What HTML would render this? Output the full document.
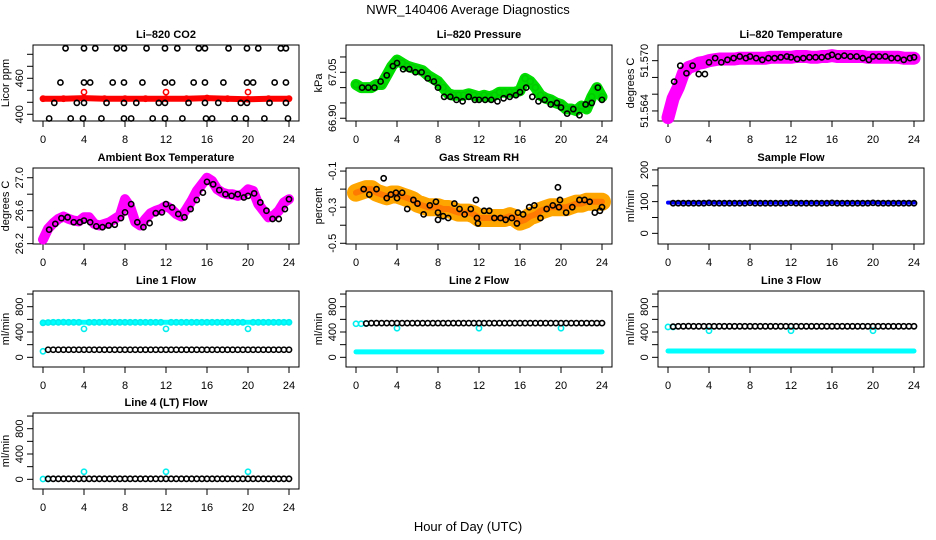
<!DOCTYPE html>
<html><head><meta charset="utf-8"><style>
html,body{margin:0;padding:0;background:#fff;}
svg{display:block;font-family:"Liberation Sans",sans-serif;}
</style></head><body>
<svg id="chart" width="936" height="540" viewBox="0 0 936 540">
<text x="468" y="14" text-anchor="middle" font-size="13">NWR_140406  Average Diagnostics</text>
<text x="468" y="531" text-anchor="middle" font-size="13">Hour of Day (UTC)</text>
</svg>
<script>
// ---------- data ----------
const hourTicks = [0,4,8,12,16,20,24];
const halfHours = [0,0.5,1,1.5,2,2.5,3,3.5,4,4.5,5,5.5,6,6.5,7,7.5,8,8.5,9,9.5,10,10.5,11,11.5,12,12.5,13,13.5,14,14.5,15,15.5,16,16.5,17,17.5,18,18.5,19,19.5,20,20.5,21,21.5,22,22.5,23,23.5,24];

// CO2
const co2BlackHours = [2.2,4.0,5.1,7.2,7.9,10.1,11.9,13.1,15.2,15.8,18.1,19.9,21.0,23.2,23.7, 1.7,4.0,4.6,6.8,7.9,9.7,11.9,12.6,14.7,15.8,17.6,19.9,20.5,22.6,23.7, 1.1,3.3,4.0,6.2,7.9,9.1,11.3,11.9,14.2,15.8,17.1,19.3,19.9,22.1,23.7, 0.6,2.7,3.9,5.7,7.9,8.6,10.7,11.9,13.6,15.9,16.5,18.7,19.8,21.6,23.9];
const co2BlackPpm = [510,510,510,510,510,510,510,510,510,510,510,510,510,510,510, 453,453,453,453,453,453,453,453,453,453,453,453,453,453,453, 419,419,419,419,419,419,419,419,419,419,419,419,419,419,419, 393,393,393,393,393,393,393,393,393,393,393,393,393,393,393];
const co2RedHours = [0,2,4,6,8,10,12,14,16,18,20,22,24,4,12,20];
const co2RedPpm = [426,426,427,426,426,426,426,426,427,426,425,426,426,437,437,437];

// Pressure
const pressGreen = [67.01,67.0,67.0,67.0,67.01,67.01,67.04,67.07,67.09,67.08,67.07,67.065,67.06,67.055,67.04,67.03,67.02,67.0,66.98,66.975,66.975,66.975,66.98,66.975,66.97,66.975,66.97,66.975,66.985,66.985,66.985,66.985,66.99,67.03,67.02,67.0,66.975,66.965,66.96,66.95,66.945,66.93,66.93,66.925,66.94,66.93,66.97,67.0,66.97];
const pressBlackHours = [0.6,1.2,1.8,2.4,3.0,3.6,4.0,4.6,5.2,5.8,6.4,7.0,7.6,8.0,8.6,9.2,9.8,10.4,11.0,11.6,12.0,12.6,13.2,13.8,14.4,15.0,15.6,16.0,16.6,17.2,17.8,18.4,19.0,19.6,20.0,20.6,21.2,21.8,22.4,23.0,23.6,24.0];
const pressBlack = [67.0,67.0,67.0,67.02,67.04,67.07,67.08,67.06,67.06,67.05,67.05,67.03,67.02,67.0,66.97,66.97,66.96,66.955,66.97,66.96,66.96,66.96,66.96,66.955,66.965,66.97,66.975,66.985,67.0,66.97,66.955,66.96,66.945,66.95,66.935,66.915,66.93,66.91,66.945,66.95,67.0,66.96];

// Li-820 temperature
const tempMagenta = [51.5632,51.5655,51.5668,51.5685,51.5692,51.5694,51.5697,51.5698,51.570,51.5701,51.5702,51.5702,51.5702,51.5702,51.5703,51.5703,51.5703,51.5703,51.5703,51.5703,51.5704,51.5704,51.5704,51.5704,51.5704,51.5705,51.5705,51.5705,51.5704,51.5704,51.5705,51.5705,51.5706,51.5705,51.5705,51.5705,51.5705,51.5705,51.5705,51.5704,51.5704,51.5704,51.5704,51.5704,51.5704,51.5704,51.5703,51.5703,51.5703];
const tempBlackHours = [0.6,1.2,1.8,2.4,3.0,3.6,4.0,4.6,5.2,5.8,6.4,7.0,7.6,8.0,8.6,9.2,9.8,10.4,11.0,11.6,12.0,12.6,13.2,13.8,14.4,15.0,15.6,16.0,16.6,17.2,17.8,18.4,19.0,19.6,20.0,20.6,21.2,21.8,22.4,23.0,23.6,24.0];
const tempBlack = [51.5675,51.5694,51.5685,51.5694,51.5684,51.5684,51.5698,51.5703,51.5698,51.5701,51.5703,51.5705,51.5703,51.5705,51.5703,51.5701,51.5703,51.5703,51.5704,51.5705,51.5704,51.5702,51.5703,51.5704,51.5704,51.5704,51.5705,51.5707,51.5705,51.5706,51.5705,51.5705,51.5703,51.5701,51.5705,51.5705,51.5705,51.5703,51.5703,51.5701,51.5703,51.5704];

// Ambient box temperature
const ambMagenta = [26.25,26.38,26.45,26.5,26.53,26.5,26.48,26.47,26.52,26.52,26.44,26.42,26.44,26.46,26.5,26.54,26.74,26.65,26.46,26.42,26.5,26.57,26.6,26.62,26.66,26.62,26.56,26.53,26.62,26.72,26.84,26.92,27.0,26.96,26.86,26.82,26.8,26.8,26.78,26.8,26.86,26.84,26.68,26.6,26.52,26.54,26.6,26.7,26.74];
const ambBlackHours = [0.6,1.2,1.8,2.4,3.0,3.6,4.0,4.6,5.2,5.8,6.4,7.0,7.6,8.0,8.6,9.2,9.8,10.4,11.0,11.6,12.0,12.6,13.2,13.8,14.4,15.0,15.6,16.0,16.6,17.2,17.8,18.4,19.0,19.6,20.0,20.6,21.2,21.8,22.4,23.0,23.6,24.0];
const ambBlack = [26.37,26.44,26.51,26.52,26.46,26.46,26.48,26.46,26.41,26.4,26.42,26.43,26.51,26.58,26.68,26.46,26.4,26.45,26.57,26.58,26.68,26.64,26.56,26.52,26.62,26.73,26.82,26.95,26.92,26.85,26.8,26.78,26.8,26.76,26.78,26.81,26.7,26.6,26.5,26.5,26.62,26.74];

// Gas stream RH
const rhOrange = [-0.22,-0.21,-0.2,-0.2,-0.22,-0.23,-0.24,-0.23,-0.23,-0.24,-0.25,-0.26,-0.28,-0.29,-0.3,-0.3,-0.3,-0.31,-0.31,-0.32,-0.33,-0.33,-0.33,-0.34,-0.36,-0.36,-0.36,-0.36,-0.36,-0.36,-0.35,-0.36,-0.38,-0.37,-0.35,-0.34,-0.32,-0.31,-0.3,-0.3,-0.3,-0.3,-0.29,-0.28,-0.28,-0.27,-0.27,-0.27,-0.27];
const rhBlackHours = [0.75,1.3,2.0,2.7,3.0,3.4,3.9,4.0,4.5,5.0,5.6,6.0,6.6,7.2,7.8,8.0,8.0,8.5,9.0,9.6,10.1,10.6,11.2,11.7,11.8,11.9,12.5,13.0,13.5,14.1,14.6,15.2,15.7,15.8,16.3,16.9,17.4,18.0,18.6,19.2,19.7,19.8,19.9,20.5,21.1,21.8,22.3,22.8,23.3,23.8,24.0];
const rhBlack = [-0.2,-0.23,-0.2,-0.14,-0.25,-0.23,-0.22,-0.25,-0.22,-0.31,-0.26,-0.28,-0.34,-0.29,-0.27,-0.33,-0.37,-0.35,-0.36,-0.28,-0.31,-0.34,-0.31,-0.26,-0.36,-0.39,-0.32,-0.32,-0.36,-0.36,-0.37,-0.36,-0.39,-0.33,-0.34,-0.3,-0.29,-0.36,-0.31,-0.29,-0.19,-0.3,-0.26,-0.33,-0.3,-0.26,-0.26,-0.27,-0.33,-0.32,-0.3];

// Flows (half-hourly)
const sampleBlue = [97,97,97,97,97,97,97,97,98,97,97,97,97,97,97,97,98,97,97,97,97,97,97,97,98,97,97,97,97,97,97,97,98,97,97,97,97,97,97,97,98,97,97,97,97,97,97,97,97];
const sampleBlack = [null,95,95,95,95,95,95,95,96,95,95,95,95,95,95,95,96,95,95,95,95,95,95,95,96,95,95,95,95,95,95,95,96,95,95,95,95,95,95,95,96,95,95,95,95,95,95,95,95];
const line1Cyan = [545,550,553,553,555,553,553,553,450,553,553,553,555,553,553,553,553,553,553,553,553,553,553,553,450,553,553,553,553,553,553,553,553,553,553,553,553,553,553,553,450,553,553,553,553,553,553,553,553];
const line1Black = [null,120,120,120,120,120,120,120,120,120,120,120,120,120,120,120,120,120,120,120,120,120,120,120,120,120,120,120,120,120,120,120,120,120,120,120,120,120,120,120,120,120,120,120,120,120,120,120,120];
const line1CyanLow = [95,null,null,null,null,null,null,null,null,null,null,null,null,null,null,null,null,null,null,null,null,null,null,null,null,null,null,null,null,null,null,null,null,null,null,null,null,null,null,null,null,null,null,null,null,null,null,null,null];
const line2Black = [null,null,535,540,540,540,540,540,540,540,540,540,540,540,540,540,540,540,540,540,540,540,540,540,540,540,540,540,540,540,540,540,540,540,540,540,540,540,540,540,540,540,540,540,540,540,540,540,540];
const line2Cyan = [85,85,85,85,85,85,85,85,85,85,85,85,85,85,85,85,85,85,85,85,85,85,85,85,85,85,85,85,85,85,85,85,85,85,85,85,85,85,85,85,85,85,85,85,85,85,85,85,85];
const line2CyanHigh = [530,530,535,null,null,null,null,null,460,null,null,null,null,null,null,null,null,null,null,null,null,null,null,null,460,null,null,null,null,null,null,null,null,null,null,null,null,null,null,null,460,null,null,null,null,null,null,null,null];
const line3Black = [null,485,490,490,492,490,490,490,490,490,490,490,490,490,490,490,490,490,490,490,490,490,490,490,490,490,490,490,490,490,490,490,490,490,490,490,490,490,490,490,490,490,490,490,490,490,490,490,490];
const line3Cyan = [100,100,100,100,100,100,100,100,100,100,100,100,100,100,100,100,100,100,100,100,100,100,100,100,100,100,100,100,100,100,100,100,100,100,100,100,100,100,100,100,100,100,100,100,100,100,100,100,100];
const line3CyanHigh = [480,480,null,null,null,null,null,null,420,null,null,null,null,null,null,null,null,null,null,null,null,null,null,null,420,null,null,null,null,null,null,null,null,null,null,null,null,null,null,null,420,null,null,null,null,null,null,null,null];
const line4Black = [null,8,8,8,8,8,8,8,8,8,8,8,8,8,8,8,8,8,8,8,8,8,8,8,8,8,8,8,8,8,8,8,8,8,8,8,8,8,8,8,8,8,8,8,8,8,8,8,8];
const line4Cyan = [5,5,null,null,null,null,null,null,120,null,null,null,null,null,null,null,null,null,null,null,null,null,null,null,120,null,null,null,null,null,null,null,null,null,null,null,null,null,null,null,120,null,null,null,null,null,null,null,null];

// ---------- drawing ----------
const NS = 'http://www.w3.org/2000/svg';
const svg = document.getElementById('chart');
const colX = [33, 346, 658];
const rowY = [45, 168, 291, 413];
const BW = 266, BH = 76;

function mk(tag, attrs, parent) {
  const e = document.createElementNS(NS, tag);
  for (const k in attrs) e.setAttribute(k, attrs[k]);
  parent.appendChild(e);
  return e;
}

function panel(name, title, col, row, yTop, yBot, yTicks, yLabels, ylab) {
  const x0 = colX[col], y0 = rowY[row];
  const g = mk('g', {}, svg);
  
  
  const sx = h => x0 + 10 + h * (BW - 20) / 24;
  const sy = v => y0 + (yTop - v) / (yTop - yBot) * BH;
  const t = mk('text', {x: x0 + BW / 2, y: y0 - 7, 'text-anchor': 'middle', 'font-size': 11, 'font-weight': 'bold'}, g);
  t.textContent = title;
  
  
  const box = mk('rect', {x: x0, y: y0, width: BW, height: BH, fill: 'none', stroke: '#000', 'stroke-width': 1}, g);
  
  
  // x axis
  const xa = mk('g', {}, g);
  
  
  mk('line', {x1: sx(hourTicks[0]), x2: sx(hourTicks[hourTicks.length - 1]), y1: y0 + BH, y2: y0 + BH, stroke: '#000'}, xa);
  hourTicks.forEach(h => {
    mk('line', {x1: sx(h), x2: sx(h), y1: y0 + BH, y2: y0 + BH + 6, stroke: '#000'}, xa);
    const l = mk('text', {x: sx(h), y: y0 + BH + 22, 'text-anchor': 'middle', 'font-size': 11}, xa);
    l.textContent = h;
  });
  // y axis
  const ya = mk('g', {}, g);
  
  
  mk('line', {x1: x0, x2: x0, y1: sy(yTicks[0]), y2: sy(yTicks[yTicks.length - 1]), stroke: '#000'}, ya);
  yTicks.forEach(v => {
    mk('line', {x1: x0 - 6, x2: x0, y1: sy(v), y2: sy(v), stroke: '#000'}, ya);
  });
  yLabels.forEach(v => {
    const yy = sy(v);
    const l = mk('text', {x: x0 - 10, y: yy, 'text-anchor': 'middle', 'font-size': 11, transform: `rotate(-90 ${x0 - 10} ${yy})`}, ya);
    l.textContent = String(v);
  });
  const yt = mk('text', {x: x0 - 24, y: y0 + BH / 2, 'text-anchor': 'middle', 'font-size': 11, transform: `rotate(-90 ${x0 - 24} ${y0 + BH / 2})`}, ya);
  yt.textContent = ylab;
  
  
  const clip = mk('clipPath', {id: 'clip-' + name}, g);
  mk('rect', {x: x0, y: y0 - 4, width: BW, height: BH + 8}, clip);
  const plot = mk('g', {'clip-path': `url(#clip-${name})`}, g);
  return {sx, sy, g: plot};
}

function band(p, hours, vals, color, width, nm) {
  let d = '';
  hours.forEach((h, i) => { if (vals[i] !== null) d += (d ? 'L' : 'M') + p.sx(h).toFixed(1) + ' ' + p.sy(vals[i]).toFixed(1); });
  const e = mk('path', {d, fill: 'none', stroke: color, 'stroke-width': width, 'stroke-linejoin': 'round', 'stroke-linecap': 'round'}, p.g);
  
  
}

function pts(p, hours, vals, color, nm, r) {
  const grp = mk('g', {}, p.g);
  
  
  hours.forEach((h, i) => {
    if (vals[i] === null || vals[i] === undefined) return;
    mk('circle', {cx: p.sx(h), cy: p.sy(vals[i]), r: r || 2.6, fill: 'none', stroke: color, 'stroke-width': 1.6}, grp);
  });
}

// Li-820 CO2
let p = panel('co2', 'Li\u2013820 CO2', 0, 0, 515.5, 388.8, [400,420,440,460,480,500], [400,460], 'Licor ppm');
band(p, co2RedHours.slice(0, 13), co2RedPpm.slice(0, 13), '#ff0000', 6, 'co2-red-band');
pts(p, co2RedHours, co2RedPpm, '#ff0000', 'co2-red-points');
pts(p, co2BlackHours, co2BlackPpm, '#000', 'co2-black-points');

// Pressure
p = panel('pressure', 'Li\u2013820 Pressure', 1, 0, 67.139, 66.891, [66.90,66.95,67.00,67.05,67.10], ['66.90','67.05'], 'kPa');
band(p, halfHours, pressGreen, '#00dd00', 11, 'pressure-green-band');
pts(p, halfHours, pressGreen, '#00cc00', 'pressure-green-points', 3);
pts(p, pressBlackHours, pressBlack, '#000', 'pressure-black-points');

// Temperature
p = panel('li820-temp', 'Li\u2013820 Temperature', 2, 0, 51.57187, 51.5628, [51.564,51.566,51.568,51.570], ['51.564','51.570'], 'degrees C');
band(p, halfHours, tempMagenta, '#ff00ff', 13, 'temp-magenta-band');
pts(p, halfHours, tempMagenta, '#ff00ff', 'temp-magenta-points', 3);
pts(p, tempBlackHours, tempBlack, '#000', 'temp-black-points');

// Ambient
p = panel('ambient', 'Ambient Box Temperature', 0, 1, 27.118, 26.196, [26.2,26.4,26.6,26.8,27.0], ['26.2','26.6','27.0'], 'degrees C');
band(p, halfHours, ambMagenta, '#ff00ff', 10, 'ambient-magenta-band');
pts(p, ambBlackHours, ambBlack, '#000', 'ambient-black-points');

// RH
p = panel('rh', 'Gas Stream RH', 1, 1, -0.083, -0.504, [-0.1,-0.2,-0.3,-0.4,-0.5], ['-0.1','-0.3','-0.5'], 'percent');
band(p, halfHours, rhOrange, '#ffa500', 18, 'rh-orange-band');
band(p, halfHours, rhOrange, '#ff7a00', 6, 'rh-orange-core');
pts(p, rhBlackHours, rhBlack, '#000', 'rh-black-points');

// Sample flow
p = panel('sample-flow', 'Sample Flow', 2, 1, 206, -33.6, [0,50,100,150,200], [0,100,200], 'ml/min');
band(p, halfHours, sampleBlue, '#0000ff', 4, 'sample-blue-band');
pts(p, halfHours, sampleBlack, '#000', 'sample-black-points');

const fT = [0,200,400,600,800,1000], fL = [0,400,800];
p = panel('line1', 'Line 1 Flow', 0, 2, 1048, -153, fT, fL, 'ml/min');
band(p, halfHours, line1Cyan.map(v => v < 500 ? 553 : v), '#00ffff', 5, 'line1-cyan-band');
pts(p, halfHours, line1Cyan, '#00eeee', 'line1-cyan-points');
pts(p, halfHours, line1CyanLow, '#00eeee', 'line1-cyan-low-points');
pts(p, halfHours, line1Black, '#000', 'line1-black-points');

p = panel('line2', 'Line 2 Flow', 1, 2, 1048, -153, fT, fL, 'ml/min');
band(p, halfHours, line2Cyan, '#00ffff', 5, 'line2-cyan-band');
pts(p, halfHours, line2CyanHigh, '#00eeee', 'line2-cyan-points');
pts(p, halfHours, line2Black, '#000', 'line2-black-points');

p = panel('line3', 'Line 3 Flow', 2, 2, 1048, -153, fT, fL, 'ml/min');
band(p, halfHours, line3Cyan, '#00ffff', 5, 'line3-cyan-band');
pts(p, halfHours, line3CyanHigh, '#00eeee', 'line3-cyan-points');
pts(p, halfHours, line3Black, '#000', 'line3-black-points');

p = panel('line4', 'Line 4 (LT) Flow', 0, 3, 1048, -153, fT, fL, 'ml/min');
pts(p, halfHours, line4Cyan, '#00eeee', 'line4-cyan-points');
pts(p, halfHours, line4Black, '#000', 'line4-black-points');
</script>
</body></html>
